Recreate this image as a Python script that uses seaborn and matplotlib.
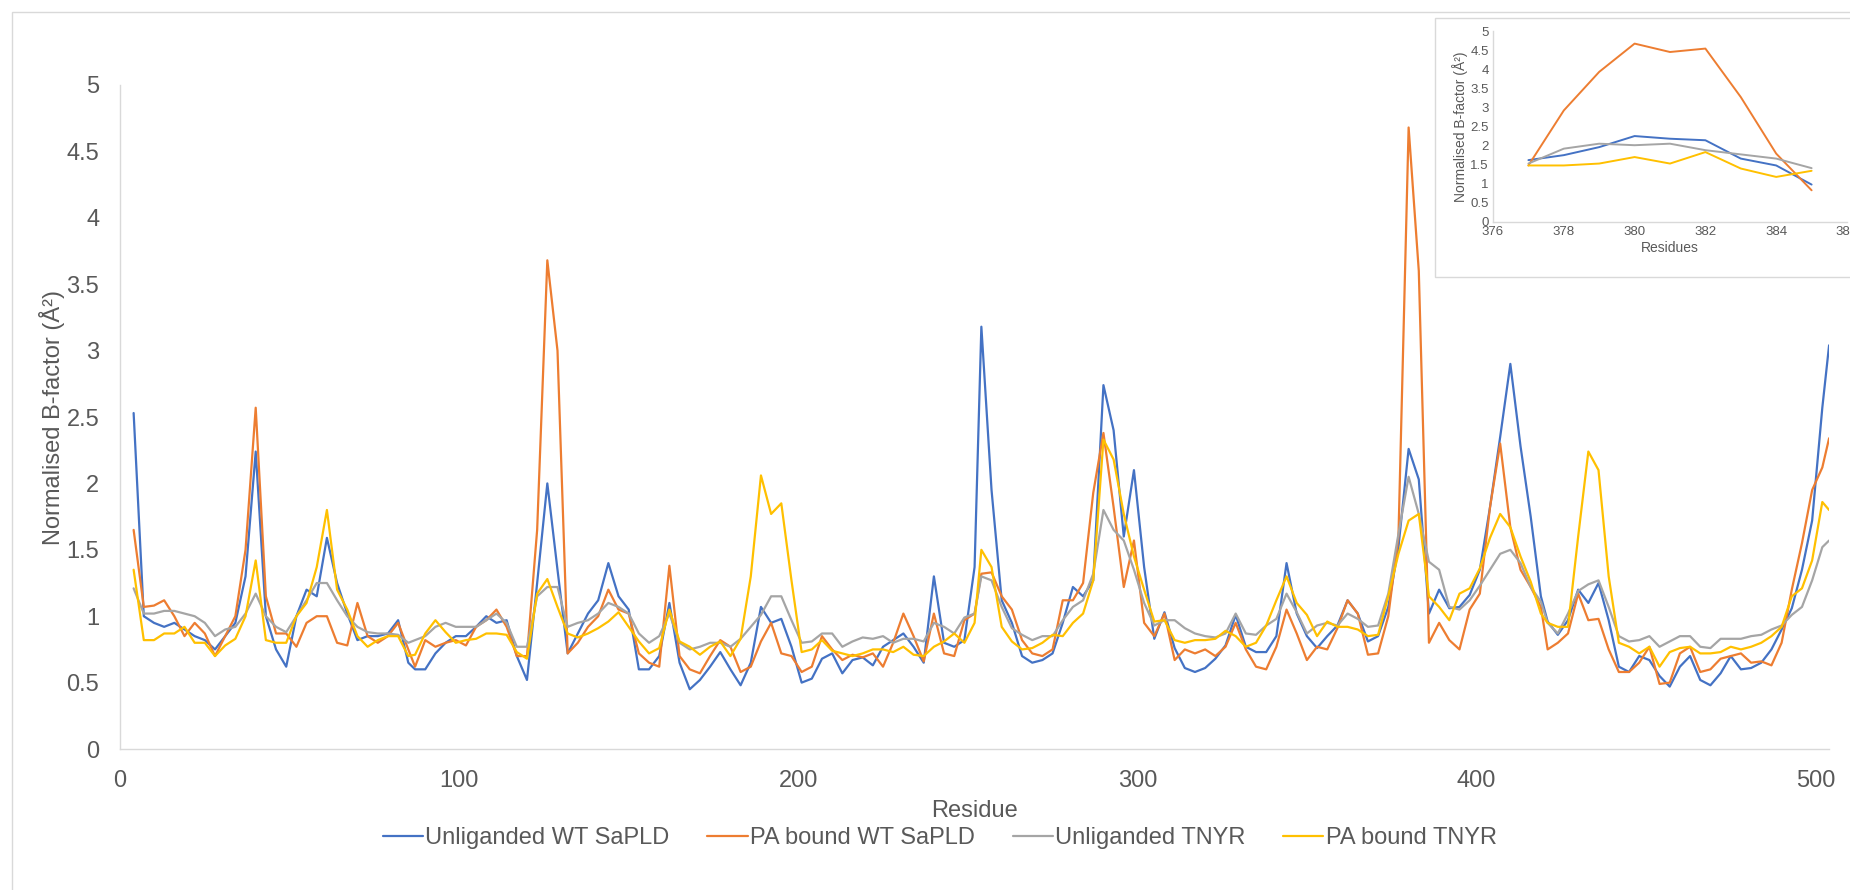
import numpy as np
import pandas as pd
import matplotlib
matplotlib.use("Agg")
import matplotlib.pyplot as plt
from matplotlib.patches import Rectangle
import seaborn as sns

# residue positions of the read-off values (about every 3rd residue, last at 504)
residues = np.append(np.round(np.linspace(4, 502, 168)), 504)

unliganded_wt = [
    2.53, 1.0, 0.95, 0.92, 0.95, 0.9, 0.85, 0.82, 0.75, 0.85, 0.95, 1.3, 2.24, 1.0, 0.75, 0.62, 1.0, 1.2, 1.15, 1.59,
    1.25, 1.02, 0.82, 0.85, 0.85, 0.87, 0.97,
    0.65, 0.6, 0.6, 0.72, 0.8, 0.85, 0.85, 0.92, 1.0, 0.95, 0.97, 0.7, 0.52, 1.25, 2.0, 1.35, 0.72, 0.87, 1.02, 1.12,
    1.4, 1.15, 1.05, 0.6, 0.6, 0.7, 1.1, 0.65, 0.45,
    0.52, 0.62, 0.73, 0.6, 0.48, 0.65, 1.07, 0.95, 0.98, 0.77, 0.5, 0.53, 0.68, 0.72, 0.57, 0.67, 0.69, 0.63, 0.77,
    0.82, 0.87, 0.77, 0.65, 1.3, 0.8, 0.77, 0.82, 1.37,
    3.18, 1.95, 1.12, 0.95, 0.7, 0.65, 0.67, 0.72, 0.95, 1.22, 1.15, 1.27, 2.74, 2.4, 1.6, 2.1, 1.37, 0.83, 1.03, 0.76,
    0.61, 0.58, 0.61, 0.68, 0.78, 1.01, 0.77, 0.73, 0.73,
    0.85, 1.4, 1.02, 0.85, 0.76, 0.85, 0.93, 1.12, 1.02, 0.81, 0.85, 1.07, 1.52, 2.26, 2.03, 1.02, 1.2, 1.06, 1.07,
    1.16, 1.35, 1.82, 2.35, 2.9, 2.28, 1.75, 1.15, 0.96, 0.86,
    0.97, 1.2, 1.1, 1.25, 0.97, 0.62, 0.58, 0.7, 0.67, 0.55, 0.47, 0.62, 0.7, 0.52, 0.48, 0.57, 0.7, 0.6, 0.61, 0.65,
    0.75, 0.9, 1.06, 1.35, 1.72, 2.57, 3.04,
]
pa_bound_wt = [
    1.65, 1.07, 1.08, 1.12, 1.0, 0.85, 0.95, 0.87, 0.7, 0.85, 1.0, 1.5, 2.57, 1.15, 0.87, 0.87, 0.77, 0.95, 1.0, 1.0,
    0.8, 0.78, 1.1, 0.85, 0.8, 0.85, 0.95,
    0.75, 0.62, 0.82, 0.77, 0.8, 0.82, 0.78, 0.92, 0.97, 1.05, 0.92, 0.7, 0.7, 1.65, 3.68, 3.0, 0.72, 0.8, 0.92, 1.0,
    1.2, 1.05, 1.02, 0.72, 0.65, 0.62, 1.38, 0.7, 0.6,
    0.57, 0.7, 0.82, 0.77, 0.58, 0.62, 0.81, 0.95, 0.72, 0.7, 0.58, 0.62, 0.85, 0.75, 0.67, 0.71, 0.69, 0.72, 0.62,
    0.8, 1.02, 0.85, 0.66, 1.02, 0.72, 0.7, 0.97, 1.02,
    1.32, 1.33, 1.15, 1.05, 0.82, 0.72, 0.7, 0.75, 1.12, 1.12, 1.25, 1.93, 2.38, 1.82, 1.22, 1.57, 0.95, 0.85, 1.02,
    0.67, 0.75, 0.72, 0.75, 0.7, 0.77, 0.95, 0.75, 0.62, 0.6,
    0.77, 1.05, 0.87, 0.67, 0.77, 0.75, 0.91, 1.12, 1.02, 0.71, 0.72, 1.0, 1.6, 4.68, 3.6, 0.8, 0.95, 0.82, 0.75,
    1.05, 1.17, 1.82, 2.3, 1.67, 1.35, 1.22, 1.07, 0.75, 0.8,
    0.87, 1.17, 0.97, 0.98, 0.75, 0.58, 0.58, 0.65, 0.77, 0.49, 0.5, 0.72, 0.77, 0.58, 0.6, 0.68, 0.7, 0.72, 0.65,
    0.66, 0.63, 0.8, 1.2, 1.55, 1.95, 2.12, 2.34,
]
unliganded_tnyr = [
    1.21, 1.02, 1.02, 1.04, 1.04, 1.02, 1.0, 0.95, 0.85, 0.9, 0.92, 1.02, 1.17, 1.0, 0.92, 0.88, 1.0, 1.12, 1.25, 1.25,
    1.12, 1.0, 0.92, 0.88, 0.87, 0.87, 0.86,
    0.8, 0.82, 0.85, 0.92, 0.95, 0.92, 0.92, 0.92, 0.97, 1.02, 0.95, 0.77, 0.77, 1.15, 1.22, 1.22, 0.92, 0.95, 0.97,
    1.02, 1.1, 1.07, 1.02, 0.87, 0.8, 0.85, 1.02, 0.8, 0.75,
    0.77, 0.8, 0.8, 0.77, 0.83, 0.92, 1.01, 1.15, 1.15, 0.97, 0.8, 0.81, 0.87, 0.87, 0.77, 0.81, 0.84, 0.83, 0.85,
    0.8, 0.83, 0.83, 0.81, 0.95, 0.92, 0.87, 0.99, 1.02,
    1.3, 1.27, 1.07, 0.91, 0.86, 0.82, 0.85, 0.85, 0.97, 1.07, 1.12, 1.32, 1.8, 1.65, 1.57, 1.35, 1.1, 0.93, 0.97,
    0.97, 0.91, 0.87, 0.85, 0.84, 0.87, 1.02, 0.87, 0.86, 0.93,
    0.98, 1.17, 1.03, 0.87, 0.93, 0.95, 0.93, 1.02, 0.98, 0.92, 0.93, 1.17, 1.62, 2.05, 1.77, 1.41, 1.35, 1.07, 1.05,
    1.12, 1.23, 1.35, 1.47, 1.5, 1.4, 1.22, 1.11, 0.95, 0.87,
    1.02, 1.19, 1.24, 1.27, 1.07, 0.85, 0.81, 0.82, 0.85, 0.77, 0.81, 0.85, 0.85, 0.77, 0.76, 0.83, 0.83, 0.83, 0.85,
    0.86, 0.9, 0.93, 1.01, 1.07, 1.27, 1.52, 1.57,
]
pa_bound_tnyr = [
    1.35, 0.82, 0.82, 0.87, 0.87, 0.92, 0.8, 0.8, 0.7, 0.78, 0.83, 1.0, 1.42, 0.82, 0.8, 0.8, 1.0, 1.1, 1.37, 1.8,
    1.2, 1.05, 0.85, 0.77, 0.82, 0.85, 0.85,
    0.7, 0.71, 0.87, 0.97, 0.88, 0.8, 0.82, 0.83, 0.87, 0.87, 0.86, 0.73, 0.68, 1.17, 1.28, 1.07, 0.87, 0.84, 0.87,
    0.91, 0.96, 1.03, 0.92, 0.81, 0.72, 0.76, 1.05, 0.81, 0.77,
    0.71, 0.77, 0.81, 0.7, 0.83, 1.3, 2.06, 1.77, 1.85, 1.27, 0.73, 0.75, 0.82, 0.74, 0.72, 0.7, 0.72, 0.75, 0.75,
    0.73, 0.77, 0.71, 0.7, 0.77, 0.81, 0.87, 0.8, 0.95,
    1.5, 1.37, 0.92, 0.81, 0.75, 0.76, 0.8, 0.86, 0.85, 0.95, 1.02, 1.27, 2.33, 2.18, 1.77, 1.45, 1.2, 0.96, 0.97,
    0.82, 0.8, 0.82, 0.82, 0.83, 0.89, 0.85, 0.77, 0.8, 0.93,
    1.12, 1.3, 1.1, 1.01, 0.85, 0.96, 0.92, 0.92, 0.9, 0.85, 0.86, 1.15, 1.47, 1.72, 1.77, 1.15, 1.07, 0.97, 1.17,
    1.21, 1.36, 1.59, 1.77, 1.67, 1.45, 1.26, 1.02, 0.95, 0.92,
    0.92, 1.6, 2.24, 2.1, 1.3, 0.8, 0.77, 0.72, 0.77, 0.62, 0.73, 0.76, 0.77, 0.72, 0.72, 0.73, 0.77, 0.75, 0.77,
    0.8, 0.85, 0.92, 1.15, 1.21, 1.42, 1.86, 1.8,
]

# zoomed-in loop 377-385 shown in the inset
inset_residues = [377, 378, 379, 380, 381, 382, 383, 384, 385]
inset_unliganded_wt = [1.62, 1.75, 1.96, 2.25, 2.18, 2.14, 1.66, 1.48, 0.98]
inset_pa_bound_wt = [1.48, 2.92, 3.93, 4.67, 4.45, 4.54, 3.27, 1.79, 0.83]
inset_unliganded_tnyr = [1.53, 1.92, 2.05, 2.01, 2.05, 1.88, 1.77, 1.66, 1.41]
inset_pa_bound_tnyr = [1.48, 1.48, 1.53, 1.7, 1.53, 1.83, 1.4, 1.18, 1.34]

series_names = ["Unliganded WT SaPLD", "PA bound WT SaPLD", "Unliganded TNYR", "PA bound TNYR"]
colours = ["#4472C4", "#ED7D31", "#A5A5A5", "#FFC000"]

df = pd.DataFrame({
    "Residue": residues,
    series_names[0]: unliganded_wt,
    series_names[1]: pa_bound_wt,
    series_names[2]: unliganded_tnyr,
    series_names[3]: pa_bound_tnyr,
}).melt(id_vars="Residue", var_name="Series", value_name="B")

df_in = pd.DataFrame({
    "Residue": inset_residues,
    series_names[0]: inset_unliganded_wt,
    series_names[1]: inset_pa_bound_wt,
    series_names[2]: inset_unliganded_tnyr,
    series_names[3]: inset_pa_bound_tnyr,
}).melt(id_vars="Residue", var_name="Series", value_name="B")

sns.set_theme(style="white")
plt.rcParams["font.family"] = ["Liberation Sans", "DejaVu Sans"]

text_col = "#595959"
axis_col = "#D9D9D9"
fs = 17

fig = plt.figure(figsize=(18.5, 8.9), dpi=100)

# light frame round the whole chart area
fig.add_artist(Rectangle((12 / 1850, -0.5), 1.5, 1 - 12 / 890 + 0.5, transform=fig.transFigure,
                         fill=False, edgecolor=axis_col, lw=1, zorder=0.5))

ax = fig.add_axes([0.0649, 0.1584, 0.9238, 0.7461])
sns.lineplot(data=df, x="Residue", y="B", hue="Series", hue_order=series_names,
             palette=colours, linewidth=1.6, estimator=None, ax=ax)
ax.set_xlim(0, 504)
ax.set_ylim(0, 5)
ax.set_xticks(range(0, 501, 100))
yt = np.arange(0, 5.01, 0.5)
ax.set_yticks(yt)
ax.set_yticklabels([f"{v:g}" for v in yt])
for s in ["top", "right"]:
    ax.spines[s].set_visible(False)
for s in ["left", "bottom"]:
    ax.spines[s].set_color(axis_col)
    ax.spines[s].set_linewidth(1)
ax.tick_params(length=0, pad=15, labelsize=fs, colors=text_col)
ax.set_xlabel("Residue", fontsize=fs, color=text_col, labelpad=6)
ax.set_ylabel("Normalised B-factor (Å²)", fontsize=fs, color=text_col, labelpad=1)

handles, labels = ax.get_legend_handles_labels()
ax.get_legend().remove()
fig.legend(handles, labels, loc="center", bbox_to_anchor=(0.508, 0.058), ncol=4, frameon=False,
           fontsize=fs, handlelength=1.7, handletextpad=0.1, columnspacing=1.6, labelcolor=text_col)

# inset box and axes
fig.add_artist(Rectangle((1435 / 1850, 1 - 277 / 890), 0.3, (277 - 18) / 890, transform=fig.transFigure,
                         facecolor="white", edgecolor=axis_col, lw=1, zorder=1))
ax_in = fig.add_axes([1493 / 1850, 1 - 222 / 890, (1847 - 1493) / 1850, (222 - 31) / 890], zorder=2)
ax_in.patch.set_alpha(0)
sns.lineplot(data=df_in, x="Residue", y="B", hue="Series", hue_order=series_names,
             palette=colours, linewidth=1.4, estimator=None, legend=False, ax=ax_in)
ax_in.set_xlim(376, 386)
ax_in.set_ylim(0, 5)
ax_in.set_xticks(range(376, 387, 2))
ax_in.set_yticks(yt)
ax_in.set_yticklabels([f"{v:g}" for v in yt])
for s in ["top", "right"]:
    ax_in.spines[s].set_visible(False)
for s in ["left", "bottom"]:
    ax_in.spines[s].set_color(axis_col)
    ax_in.spines[s].set_linewidth(1)
ax_in.tick_params(length=0, pad=3, labelsize=9.5, colors=text_col)
ax_in.set_xlabel("Residues", fontsize=10, color=text_col, labelpad=2)
ax_in.set_ylabel("Normalised B-factor (Å²)", fontsize=10, color=text_col, labelpad=2)

fig.savefig("out.png", dpi=100)
